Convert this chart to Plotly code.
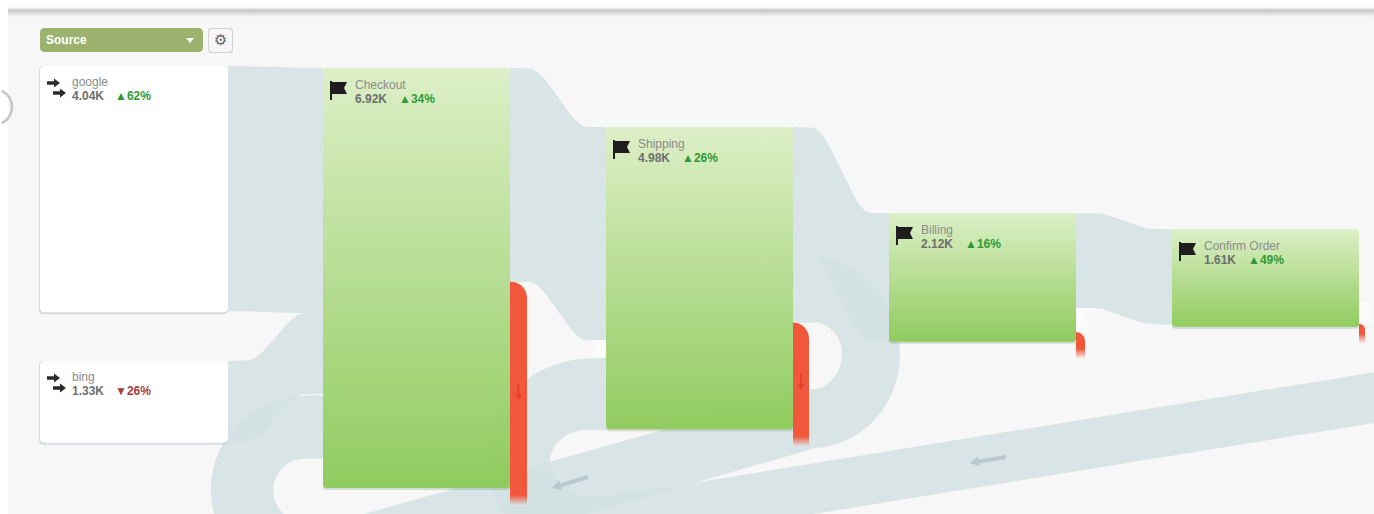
import numpy as np
import plotly.graph_objects as go

# Visitor counts in thousands, one entry per step of the flow
SOURCE_NAMES = ["google", "bing"]
SOURCE_VALUES = [4.04, 1.33]
SOURCE_DELTAS = ["▲62%", "▼26%"]

STEP_NAMES = ["Checkout", "Shipping", "Billing", "Confirm Order"]
STEP_VALUES = [6.92, 4.98, 2.12, 1.61]
STEP_DELTAS = ["▲34%", "▲26%", "▲16%", "▲49%"]
STEP_EXITS = [3.40, 1.76, 0.16, 0.05]

FORWARD_TO_NEXT = [3.52, 2.12, 1.57]
RETURN_TO_CHECKOUT = 1.12
RETURN_TO_SHIPPING = 1.20

# Page geometry
PX_PER_K = 60.7
WIDTH, HEIGHT = 1374, 514
SOURCE_BOX = [(40, 66), (40, 361)]
STEP_BOX = [(323, 68), (606, 127), (889, 213), (1172, 229)]
BOX_W = 187
EXIT_W = [17, 16, 9, 6]

BAND = "rgba(210,225,226,0.85)"
PANEL = "#f7f7f7"
RED = "240,87,59"
TXT_NAME, TXT_VALUE = "#8c8c8c", "#6e6e6e"
UP, DOWN = "#2f9a35", "#a5403f"
FONT = "Liberation Sans"

fig = go.Figure()


def poly(x, y, color, **kw):
    fig.add_trace(go.Scatter(x=list(x), y=list(y), mode="lines", fill="toself",
                             fillcolor=color, line=dict(width=0), hoverinfo="skip", **kw))


def gradient(x, y, stops, kind="vertical", start=None, stop=None):
    fig.add_trace(go.Scatter(x=list(x), y=list(y), mode="lines", fill="toself",
                             line=dict(width=0), hoverinfo="skip",
                             fillgradient=dict(type=kind, colorscale=stops, start=start, stop=stop)))


def rounded(x0, y0, x1, y1, r=3):
    t = np.linspace(0, np.pi / 2, 6)
    xs = np.r_[x0 + r - r * np.cos(t), x1 - r + r * np.sin(t), x1 - r + r * np.cos(t), x0 + r - r * np.sin(t)]
    ys = np.r_[y0 + r - r * np.sin(t), y0 + r - r * np.cos(t), y1 - r + r * np.sin(t), y1 - r + r * np.cos(t)]
    return np.r_[xs, xs[0]], np.r_[ys, ys[0]]


def s_band(x0, x1, top0, top1, value, lead=18):
    """Ribbon between two columns, flat near each end with an S-bend between."""
    h = value * PX_PER_K
    t = np.linspace(0, 1, 60)
    s = 3 * t ** 2 - 2 * t ** 3
    xs = np.r_[x0, x0 + lead + (x1 - x0 - 2 * lead) * t, x1]
    top = np.r_[top0, top0 + (top1 - top0) * s, top1]
    poly(np.r_[xs, xs[::-1]], np.r_[top, (top + h)[::-1]], BAND)


def arc(cx, cy, rx, ry, a0, a1, n=50):
    a = np.radians(np.linspace(a0, a1, n))
    return np.c_[cx + rx * np.cos(a), cy + ry * np.sin(a)]


def line(p0, p1, n=20):
    return np.c_[np.linspace(p0[0], p1[0], n), np.linspace(p0[1], p1[1], n)]


def bezier(p0, p1, p2, p3, n=30):
    t = np.linspace(0, 1, n)[:, None]
    return ((1 - t) ** 3 * np.array(p0) + 3 * (1 - t) ** 2 * t * np.array(p1)
            + 3 * (1 - t) * t ** 2 * np.array(p2) + t ** 3 * np.array(p3))


def routed_band(path, widths_at, widths):
    """Ribbon of varying width along a centre line; widths given at path fractions."""
    d = np.r_[0, np.cumsum(np.hypot(*np.diff(path, axis=0).T))]
    w = np.interp(d / d[-1], widths_at, widths)
    tan = np.gradient(path, axis=0)
    tan /= np.maximum(np.hypot(tan[:, 0], tan[:, 1]), 1e-6)[:, None]
    nrm = np.c_[-tan[:, 1], tan[:, 0]]
    a = path + nrm * w[:, None] / 2
    b = path - nrm * w[:, None] / 2
    poly(np.r_[a[:, 0], b[::-1, 0]], np.r_[a[:, 1], b[::-1, 1]], BAND)


def label(x, y, text, color, bold=False, size=12, family=FONT, anchor="left"):
    fig.add_annotation(x=x, y=y, text=f"<b>{text}</b>" if bold else text, showarrow=False,
                       xanchor=anchor, yanchor="middle", xref="x", yref="y",
                       font=dict(family=family, size=size, color=color))


# Panel and the shadow along its top edge
rx, ry = [8, WIDTH, WIDTH, 8, 8], [12, 12, HEIGHT, HEIGHT, 12]
poly(rx, ry, PANEL)
gradient([8, WIDTH, WIDTH, 8, 8], [7, 7, 17, 17, 7],
         [[0, "#ffffff"], [0.35, "#c8c8c8"], [1, PANEL]], start=7, stop=17)
a = arc(-6, 107, 18, 18, -65, 65)
fig.add_trace(go.Scatter(x=a[:, 0], y=a[:, 1], mode="lines", hoverinfo="skip",
                         line=dict(color="#c6c6c6", width=2.5)))

# Forward bands
check_x, check_y = STEP_BOX[0]
google_h = SOURCE_VALUES[0] * PX_PER_K
s_band(SOURCE_BOX[0][0] + BOX_W + 1, check_x, SOURCE_BOX[0][1], check_y, SOURCE_VALUES[0])
s_band(SOURCE_BOX[1][0] + BOX_W + 1, check_x, SOURCE_BOX[1][1], check_y + google_h, SOURCE_VALUES[1])
for i, flow in enumerate(FORWARD_TO_NEXT):
    (x0, y0), (x1, y1) = STEP_BOX[i], STEP_BOX[i + 1]
    s_band(x0 + BOX_W, x1, y0, y1, flow)

# Shipping back round to Checkout
ship_x, ship_y = STEP_BOX[1]
w_back = RETURN_TO_CHECKOUT * PX_PER_K
path = np.vstack([
    line((ship_x + BOX_W, 289), (810, 289), 6),
    arc(810, 354, 61, 65, -90, 90),
    line((810, 419), (470, 516)),
    bezier((470, 516), (400, 536), (350, 553), (305, 553)),
    arc(305, 490, 63, 63, 90, 270),
    line((305, 427), (check_x, 427), 6),
])
routed_band(path, [0, 0.1, 1], [w_back, 58, w_back - 5])

# Later steps back round to Shipping, running off the right edge
w_ship = RETURN_TO_SHIPPING * PX_PER_K
top_in = ship_y + FORWARD_TO_NEXT[0] * PX_PER_K + 17
y_in = top_in + w_ship / 2
path = np.vstack([
    line((WIDTH + 30, 392.7), (590, 525), 30),
    arc(590, (y_in + 525) / 2, 72, (525 - y_in) / 2, 90, 270),
    line((590, y_in), (ship_x, y_in), 6),
])
routed_band(path, [0, 0.7, 1], [50, 50, w_ship])

# Pale tails where a small share of visits leaves a band
gradient([1077, 1094, 1094, 1077, 1077], [308, 308, 332, 332, 308],
         [[0, "#ffffff"], [1, PANEL]], kind="horizontal")
gradient([1359, WIDTH, WIDTH, 1359, 1359], [302, 302, 323, 323, 302],
         [[0, "#ffffff"], [1, PANEL]], kind="horizontal")
gradient([588, 606, 606, 588, 588], [340, 340, 357, 357, 340],
         [[0, PANEL], [1, "#ffffff"]], kind="horizontal")

# Source boxes
for (x, y), v in zip(SOURCE_BOX, SOURCE_VALUES):
    h = v * PX_PER_K + 1
    sx, sy = rounded(x - 1, y, x + BOX_W + 1, y + h + 2, 4)
    poly(sx, sy, "rgba(150,170,172,0.35)")
    bx, by = rounded(x, y, x + BOX_W + 1, y + h, 4)
    poly(bx, by, "#ffffff")

# Step boxes, shaded top to bottom and slightly see-through
for (x, y), v in zip(STEP_BOX, STEP_VALUES):
    h = v * PX_PER_K
    sx, sy = rounded(x, y + 1, x + BOX_W, y + h + 2, 3)
    poly(sx, sy, "rgba(120,140,120,0.28)")
    bx, by = rounded(x, y, x + BOX_W, y + h, 3)
    gradient(bx, by, [[0, "rgba(221,240,198,0.96)"], [1, "rgba(141,203,90,0.96)"]],
             start=y, stop=y + h)

# Exit bars, fading out below their step
TAIL = 17
for (x, y), v, ex, w in zip(STEP_BOX, STEP_VALUES, STEP_EXITS, EXIT_W):
    bottom = y + v * PX_PER_K
    top = bottom - ex * PX_PER_K
    end = bottom + TAIL
    x0 = x + BOX_W
    r = min(w, 16)
    c = arc(x0 + w - r, top + r, r, r, -90, 0, 16)
    ex_x = np.r_[x0, c[:, 0], x0 + w, x0, x0]
    ex_y = np.r_[top, c[:, 1], end, end, top]
    fade = (end - top - 10) / (end - top)
    gradient(ex_x, ex_y, [[0, f"rgba({RED},1)"], [fade, f"rgba({RED},1)"], [1, f"rgba({RED},0)"]],
             start=top, stop=end)


def arrow(x0, y0, x1, y1, color, width=3, head=8, spread=5):
    """Straight arrow drawn as a short line and a filled head."""
    ux, uy = x1 - x0, y1 - y0
    n = np.hypot(ux, uy)
    ux, uy = ux / n, uy / n
    bx, by = x1 - ux * head, y1 - uy * head
    fig.add_trace(go.Scatter(x=[x0, bx], y=[y0, by], mode="lines", hoverinfo="skip",
                             line=dict(color=color, width=width)))
    poly([x1, bx - uy * spread, bx + uy * spread, x1], [y1, by + ux * spread, by - ux * spread, y1], color)


# Direction markers on the return bands and the exit bars
arrow(588, 477, 552, 488, "#b7c9ca", width=4, head=9, spread=5)
arrow(1006, 457, 970, 463, "#b7c9ca", width=4, head=9, spread=5)
for (x, y), v, w, yc in zip(STEP_BOX[:2], STEP_VALUES[:2], EXIT_W[:2], [392, 382]):
    cx = x + BOX_W + w / 2
    arrow(cx, yc - 8, cx, yc + 8, "#e8432b", width=2, head=6, spread=3.5)

# Icons and labels inside the boxes
for (x, y), name, v, d in zip(SOURCE_BOX, SOURCE_NAMES, SOURCE_VALUES, SOURCE_DELTAS):
    arrow(x + 7, y + 17, x + 20, y + 17, "#2b2b2b", width=3.5, head=6, spread=4.5)
    arrow(x + 13, y + 27, x + 26, y + 27, "#2b2b2b", width=3.5, head=6, spread=4.5)
    label(x + 30, y + 16, name, TXT_NAME)
    label(x + 30, y + 30, f"{v:.2f}K", TXT_VALUE, bold=True)
    label(x + 73, y + 30, d, UP if d[0] == "▲" else DOWN, bold=True)

for (x, y), name, v, d in zip(STEP_BOX, STEP_NAMES, STEP_VALUES, STEP_DELTAS):
    poly(np.array([7, 9, 9, 7, 7]) + x, np.array([13, 13, 32, 32, 13]) + y, "#1e1e1e")
    poly(np.array([9, 24, 21, 24, 9, 9]) + x, np.array([14, 14, 20, 26, 26, 14]) + y, "#1e1e1e")
    label(x + 30, y + 17, name, TXT_NAME)
    label(x + 30, y + 31, f"{v:.2f}K", TXT_VALUE, bold=True)
    label(x + 74, y + 31, d, UP, bold=True)

# Dimension selector and settings button
bx, by = rounded(40, 28, 203, 52, 4)
poly(bx, by, "#9db26e")
label(44, 40, "Source", "#ffffff", bold=True)
poly([186, 194, 190, 186], [38, 38, 43, 38], "#ffffff")
bx, by = rounded(208, 28, 233, 53, 3)
poly(bx, by, "#d2d2d2")
bx, by = rounded(209, 29, 232, 52, 3)
poly(bx, by, "#f6f6f6")
label(220.5, 40, "⚙", "#666666", size=15, family="DejaVu Sans", anchor="center")

fig.update_layout(
    width=WIDTH, height=HEIGHT, margin=dict(l=0, r=0, t=0, b=0),
    paper_bgcolor="#ffffff", plot_bgcolor="#ffffff", showlegend=False, hovermode=False,
    xaxis=dict(range=[0, WIDTH], visible=False, fixedrange=True),
    yaxis=dict(range=[HEIGHT, 0], visible=False, fixedrange=True),
)
fig.write_html("out.html", config=dict(displayModeBar=False))
